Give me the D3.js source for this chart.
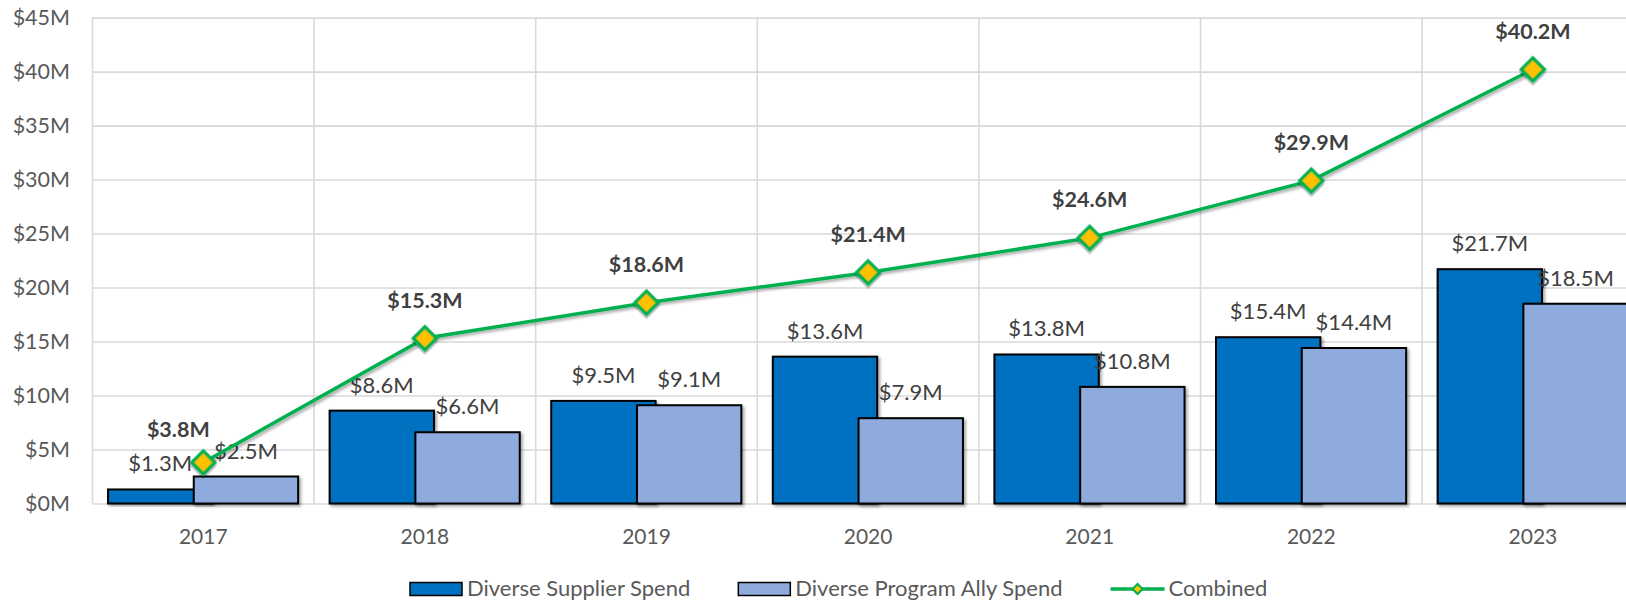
<!DOCTYPE html>
<html>
<head>
<meta charset="utf-8">
<script src="https://cdn.jsdelivr.net/npm/d3@7"></script>
<style>
  body { margin: 0; background: #fff; }
  text { font-family: Lato, "Open Sans", sans-serif; }
</style>
</head>
<body>
<div id="chart"></div>
<script>
// values in $M
var years = ["2017", "2018", "2019", "2020", "2021", "2022", "2023"];
var supplierSpend = [1.3, 8.6, 9.5, 13.6, 13.8, 15.4, 21.7];
var allySpend = [2.5, 6.6, 9.1, 7.9, 10.8, 14.4, 18.5];
var combined = [3.8, 15.3, 18.6, 21.4, 24.6, 29.9, 40.2];
var yTicks = [0, 5, 10, 15, 20, 25, 30, 35, 40, 45];
var seriesNames = ["Diverse Supplier Spend", "Diverse Program Ally Spend", "Combined"];

var width = 1626, height = 603;
var plotLeft = 92.5, plotTop = 17.6, plotBottom = 503.5, step = 221.6;

var fmt = function(v) { return "$" + v.toFixed(1) + "M"; };

var svg = d3.select("#chart")
  .append("svg")
    .attr("width", width)
    .attr("height", height);

// soft drop shadow like excel
svg.append("defs").append("filter")
    .attr("id", "shadow")
    .attr("x", "-20%").attr("y", "-20%")
    .attr("width", "140%").attr("height", "140%")
  .append("feDropShadow")
    .attr("dx", 2).attr("dy", 2)
    .attr("stdDeviation", 1.5)
    .attr("flood-color", "#000")
    .attr("flood-opacity", 0.35);

var x = d3.scaleBand()
  .domain(years)
  .range([plotLeft, plotLeft + step * years.length]);

var y = d3.scaleLinear()
  .domain([0, 45])
  .range([plotBottom, plotTop]);

// horizontal gridlines
svg.append("g")
    .attr("transform", "translate(" + plotLeft + ",0)")
    .call(d3.axisLeft(y).tickValues(yTicks).tickSize(-(width - plotLeft)).tickFormat(""))
    .call(function(g) { g.select(".domain").remove(); })
  .selectAll("line")
    .attr("stroke", "#d9d9d9")
    .attr("stroke-width", 1.6);

// vertical gridlines at category boundaries
svg.append("g")
  .selectAll("line")
  .data(years)
  .enter().append("line")
    .attr("x1", function(d) { return x(d); })
    .attr("x2", function(d) { return x(d); })
    .attr("y1", plotTop)
    .attr("y2", plotBottom)
    .attr("stroke", "#d9d9d9")
    .attr("stroke-width", 1.6);

// y axis labels
var yAxis = svg.append("g")
    .attr("transform", "translate(70,0)")
    .call(d3.axisLeft(y).tickValues(yTicks).tickSize(0).tickPadding(0)
      .tickFormat(function(d) { return "$" + d + "M"; }));
yAxis.select(".domain").remove();
yAxis.selectAll("text")
    .style("font-family", "Lato, sans-serif")
    .style("font-size", "21.5px")
    .attr("fill", "#595959");

// x axis labels
var xAxis = svg.append("g")
    .attr("transform", "translate(0," + plotBottom + ")")
    .call(d3.axisBottom(x).tickSize(0).tickPadding(25.5));
xAxis.select(".domain").remove();
xAxis.selectAll("text")
    .style("font-family", "Lato, sans-serif")
    .style("font-size", "21px")
    .attr("fill", "#595959");

var bw = x.bandwidth();
var barW = bw * 0.471;
var cx = function(i) { return x(years[i]) + bw / 2; };

var bars = [
  {name: seriesNames[0], values: supplierSpend, color: "#0070c0", off: -bw * 0.43},
  {name: seriesNames[1], values: allySpend, color: "#8faadc", off: -bw * 0.043}
];

bars.forEach(function(s) {
  svg.append("g")
    .selectAll("rect")
    .data(s.values)
    .enter().append("rect")
      .attr("x", function(d, i) { return cx(i) + s.off; })
      .attr("y", function(d) { return y(d); })
      .attr("width", barW)
      .attr("height", function(d) { return plotBottom - y(d); })
      .attr("fill", s.color)
      .attr("stroke", "#000")
      .attr("stroke-width", 2)
      .attr("filter", "url(#shadow)");
});

// bar value labels
bars.forEach(function(s) {
  svg.append("g")
    .selectAll("text")
    .data(s.values)
    .enter().append("text")
      .attr("x", function(d, i) { return cx(i) + s.off + barW / 2; })
      .attr("y", function(d) { return y(d) - 18; })
      .attr("text-anchor", "middle")
      .style("font-size", "22px")
      .attr("fill", "#404040")
      .text(fmt);
});

// combined line
var line = d3.line()
  .x(function(d, i) { return cx(i); })
  .y(function(d) { return y(d); });

svg.append("path")
    .datum(combined)
    .attr("d", line)
    .attr("fill", "none")
    .attr("stroke", "#00b050")
    .attr("stroke-width", 3.5)
    .attr("filter", "url(#shadow)");

svg.append("g")
  .selectAll("path")
  .data(combined)
  .enter().append("path")
    .attr("d", d3.symbol(d3.symbolSquare, 265))
    .attr("transform", function(d, i) { return "translate(" + cx(i) + "," + y(d) + ") rotate(45)"; })
    .attr("fill", "#ffc000")
    .attr("stroke", "#00b050")
    .attr("stroke-width", 3.2)
    .attr("filter", "url(#shadow)");

// combined labels (first one nudged left, as in the original)
svg.append("g")
  .selectAll("text")
  .data(combined)
  .enter().append("text")
    .attr("x", function(d, i) { return cx(i) + (i === 0 ? -25 : 0); })
    .attr("y", function(d, i) { return y(d) - (i === 0 ? 25.5 : 30.5); })
    .attr("text-anchor", "middle")
    .style("font-size", "21.5px")
    .style("font-weight", "bold")
    .attr("fill", "#404040")
    .text(fmt);

// legend
var legend = svg.append("g").attr("transform", "translate(410,0)");
var lx = 0;
bars.forEach(function(s) {
  legend.append("rect")
    .attr("x", lx).attr("y", 582.5)
    .attr("width", 52).attr("height", 13)
    .attr("fill", s.color)
    .attr("stroke", "#000")
    .attr("stroke-width", 1.5);
  var t = legend.append("text")
    .attr("x", lx + 57).attr("y", 596)
    .style("font-size", "22px")
    .attr("fill", "#595959")
    .text(s.name);
  lx += 57 + t.node().getComputedTextLength() + 48;
});
legend.append("line")
  .attr("x1", lx).attr("x2", lx + 54)
  .attr("y1", 589).attr("y2", 589)
  .attr("stroke", "#00b050")
  .attr("stroke-width", 3.5);
legend.append("path")
  .attr("d", d3.symbol(d3.symbolSquare, 50))
  .attr("transform", "translate(" + (lx + 27) + ",589) rotate(45)")
  .attr("fill", "#ffc000")
  .attr("stroke", "#00b050")
  .attr("stroke-width", 2);
legend.append("text")
  .attr("x", lx + 58).attr("y", 596)
  .style("font-size", "22px")
  .attr("fill", "#595959")
  .text(seriesNames[2]);
</script>
</body>
</html>
